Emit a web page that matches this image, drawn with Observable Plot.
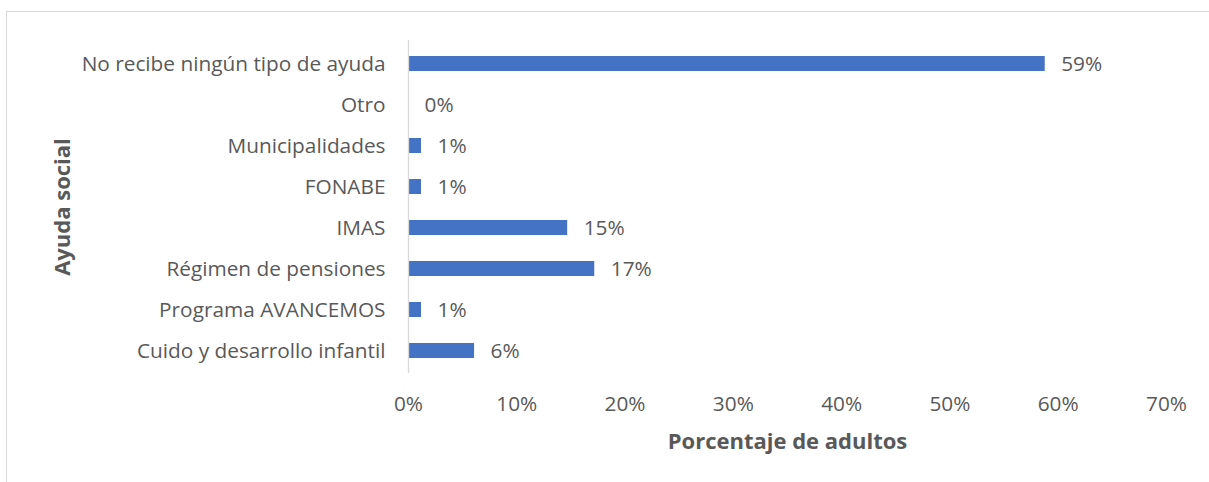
<!DOCTYPE html>
<html>
<head>
<meta charset="utf-8">
<script src="https://cdn.jsdelivr.net/npm/d3@7"></script>
<script src="https://cdn.jsdelivr.net/npm/@observablehq/plot@0.6"></script>
<style>
  html, body { margin: 0; padding: 0; background: #fff; overflow: hidden; }
  #frame { position: absolute; left: 6px; top: 11px; width: 1400px; height: 600px;
           border-top: 1px solid #d9d9d9; border-left: 1px solid #d9d9d9; }
  #chart { position: absolute; left: 0; top: 0; }
</style>
</head>
<body>
<div id="frame"></div>
<div id="chart"></div>
<script>
const categories = [
  "No recibe ningún tipo de ayuda",
  "Otro",
  "Municipalidades",
  "FONABE",
  "IMAS",
  "Régimen de pensiones",
  "Programa AVANCEMOS",
  "Cuido y desarrollo infantil"
];
const values = [0.588, 0.0, 0.012, 0.012, 0.147, 0.172, 0.012, 0.061];
const labels = ["59%", "0%", "1%", "1%", "15%", "17%", "1%", "6%"];
const xTicks = [0, 0.1, 0.2, 0.3, 0.4, 0.5, 0.6, 0.7];
const xTitle = "Porcentaje de adultos";
const yTitle = "Ayuda social";

const data = categories.map((c, i) => ({cat: c, v: values[i], label: labels[i]}));
const FONT = "'Open Sans', sans-serif";
const GRAY = "#595959";
const FS = 20.8;
const TFS = 22;

const chart = Plot.plot({
  width: 1209,
  height: 482,
  marginLeft: 408,
  marginRight: 43,
  marginTop: 40,
  marginBottom: 109,
  style: {fontFamily: FONT, fontSize: FS + "px", color: GRAY, background: "transparent"},
  x: {domain: [0, 0.7]},
  y: {domain: categories, paddingInner: 0.64, paddingOuter: 0.32},
  marks: [
    Plot.axisX({ticks: xTicks, tickFormat: d => Math.round(d * 100) + "%", tickSize: 0, tickPadding: 23,
      fill: GRAY, fontSize: FS, label: null}),
    Plot.axisY({tickSize: 0, tickPadding: 23, fill: GRAY, fontSize: FS, label: null}),
    Plot.barX(data, {x: "v", y: "cat", fill: "#4472c4"}),
    Plot.ruleX([0], {stroke: "#d9d9d9", strokeWidth: 1.3}),
    Plot.text(data, {x: "v", y: "cat", text: "label", textAnchor: "start", dx: 16, fill: GRAY, fontSize: FS}),
    Plot.text([xTitle], {frameAnchor: "bottom", lineAnchor: "middle", dy: 68, fontWeight: "bold", fontSize: TFS, fill: GRAY, text: d => d}),
    Plot.text([yTitle], {frameAnchor: "left", textAnchor: "middle", lineAnchor: "middle", dx: -346, rotate: -90, fontWeight: "bold", fontSize: TFS, fill: GRAY, text: d => d})
  ]
});
document.getElementById("chart").appendChild(chart);
</script>
</body>
</html>
